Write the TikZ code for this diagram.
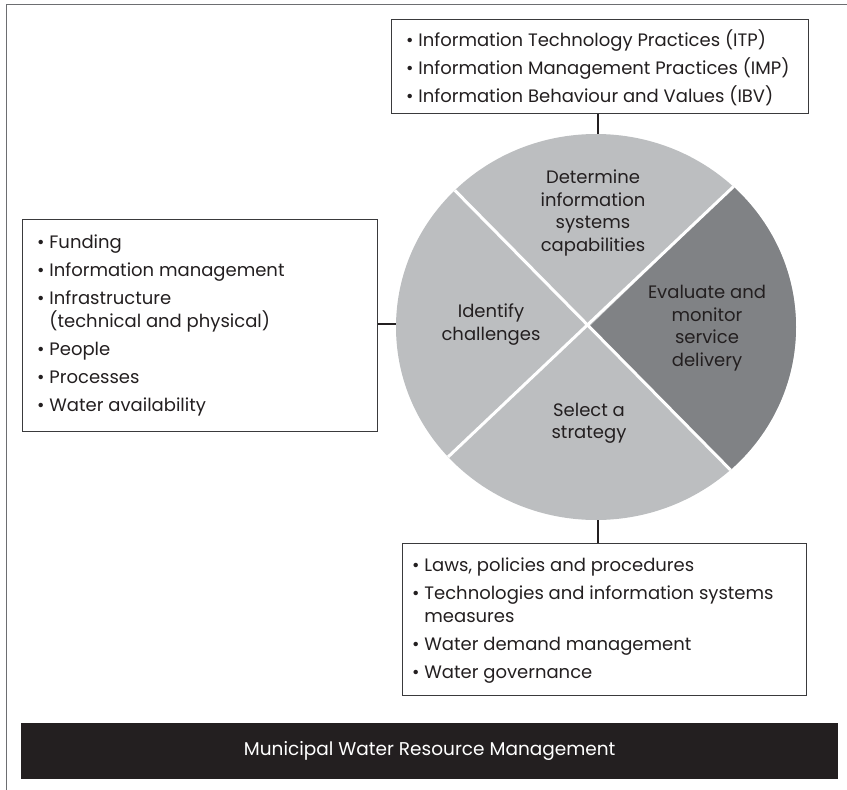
\documentclass[tikz,border=0pt]{standalone}
\usepackage{fontspec}
\setmainfont{Poppins}
\usetikzlibrary{shapes.geometric}
\definecolor{lightsec}{HTML}{BCBEC0}
\definecolor{darksec}{HTML}{808285}
\definecolor{ink}{HTML}{231F20}
\definecolor{boxline}{HTML}{3A3A3C}
\definecolor{framecol}{HTML}{6D6E71}
\newcommand{\hang}{\phantom{\textbullet\ }}
\begin{document}
\begin{tikzpicture}[x=1pt,y=-1pt,
  box/.style={draw=boxline, line width=1.3pt, fill=white, inner sep=0pt, anchor=north west},
  conn/.style={draw=ink, line width=1.1pt},
  listtext/.style={text=ink, align=left, inner sep=0pt, anchor=north west},
  sectext/.style={text=ink, align=center, inner sep=0pt, font=\fontsize{18}{22.5}\selectfont},
]
\useasboundingbox (0,0) rectangle (847,790);
% partial outer frame
\draw[framecol, line width=1pt] (6,790) -- (6,4) -- (847,4);

% wheel
\node[ellipse, minimum width=400pt, minimum height=386pt, inner sep=0pt] (wheel) at (596,327) {};
\begin{scope}
  \clip (596,327) ellipse [x radius=200, y radius=193];
  \fill[lightsec] (390,120) rectangle (800,530);
  \fill[darksec] (590,326) -- (876,50) -- (950,326) -- (872,612) -- cycle;
  \draw[white, line width=3pt] (420,155) -- (766,506);
  \draw[white, line width=3pt] (410,493) -- (770,152);
\end{scope}

\node[sectext] (detcap) at (593,213) {Determine\\information\\systems\\capabilities};
\node[sectext] (identify) at (491,324.5) {Identify\\challenges};
\node[sectext] (evaluate) at (707,328) {Evaluate and\\monitor\\service\\delivery};
\node[sectext] (select) at (589,423.5) {Select a\\strategy};

% top box
\node[box, minimum width=417pt, minimum height=94pt] (itbox) at (391,19) {};
\node[listtext, font=\fontsize{18}{28}\selectfont] (ittext) at (406,29)
  {\textbullet\ Information Technology Practices (ITP)\\
   \textbullet\ Information Management Practices (IMP)\\
   \textbullet\ Information Behaviour and Values (IBV)};

% left box
\node[box, minimum width=355pt, minimum height=212pt] (chbox) at (21.5,219) {};
\node[listtext, font=\fontsize{18}{23}\selectfont] (chtext) at (37,235)
  {\textbullet\ Funding\\[5pt]
   \textbullet\ Information management\\[5pt]
   \textbullet\ Infrastructure\\
   \hang(technical and physical)\\[5pt]
   \textbullet\ People\\[5pt]
   \textbullet\ Processes\\[5pt]
   \textbullet\ Water availability};

% bottom box
\node[box, minimum width=404pt, minimum height=152pt] (stbox) at (402,543) {};
\node[listtext, font=\fontsize{18}{23}\selectfont] (sttext) at (412,558)
  {\textbullet\ Laws, policies and procedures\\[5pt]
   \textbullet\ Technologies and information systems\\
   \hang measures\\[5pt]
   \textbullet\ Water demand management\\[5pt]
   \textbullet\ Water governance};

% connectors
\draw[conn] (itbox.south -| 598,0) -- (wheel.north -| 598,0);
\draw[conn] (chbox.east |- 0,324) -- (wheel.west |- 0,324);
\draw[conn] (wheel.south -| 598,0) -- (stbox.north -| 598,0);

% banner
\node[fill=ink, text=white, inner sep=0pt, anchor=north west, minimum width=817pt, minimum height=56pt,
      font=\fontsize{18.5}{22}\selectfont] (banner) at (21,723) {Municipal Water Resource Management};
\end{tikzpicture}
\end{document}
